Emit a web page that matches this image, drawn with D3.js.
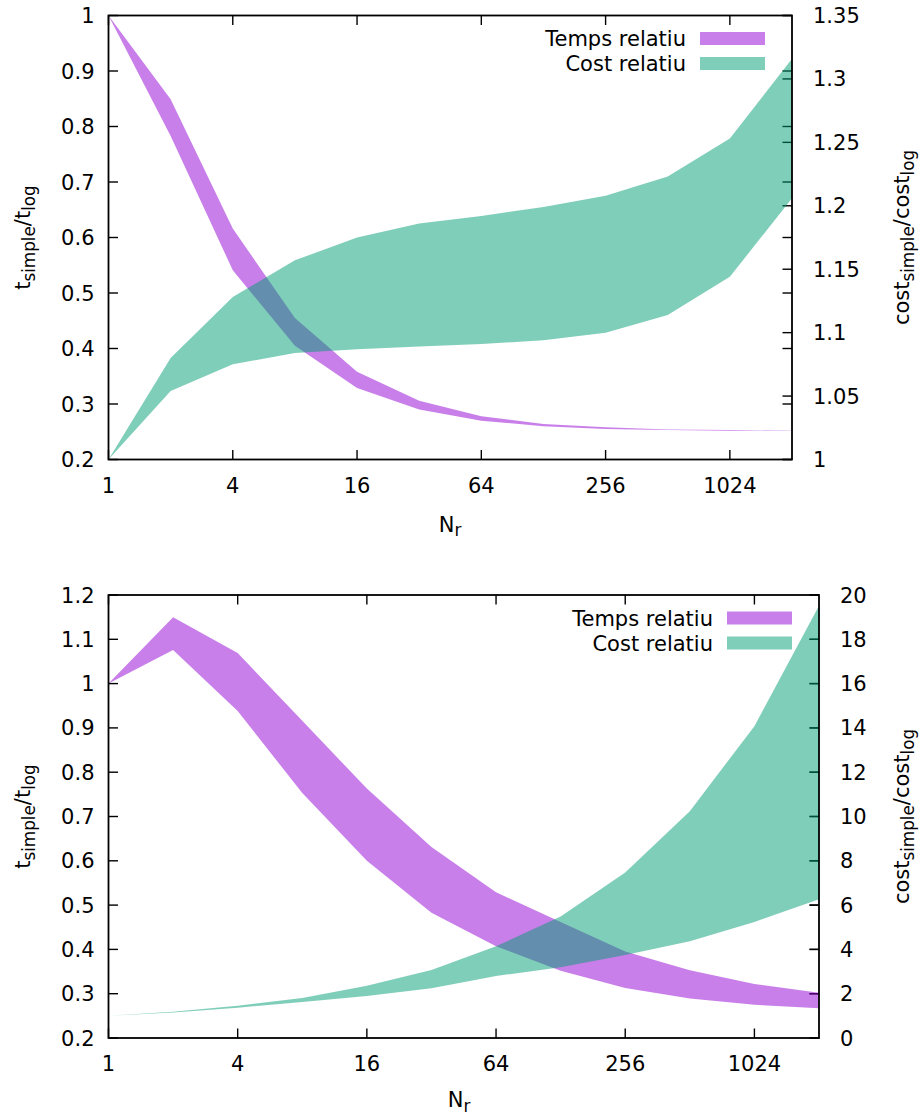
<!DOCTYPE html>
<html>
<head>
<meta charset="utf-8">
<script src="https://cdn.jsdelivr.net/npm/d3@7"></script>
<style>
  html, body { margin: 0; padding: 0; background: #ffffff; }
  svg { display: block; }
  text { font-family: "DejaVu Sans", sans-serif; fill: #000; }
</style>
</head>
<body>
<svg id="chart" width="919" height="1117"></svg>
<script>
// ---------- Data ----------
const nr = [1, 2, 4, 8, 16, 32, 64, 128, 256, 512, 1024, 2048];

// Panel 1
const p1TempsHigh = [1.0, 0.849, 0.616, 0.455, 0.358, 0.306, 0.278, 0.264, 0.258, 0.254, 0.253, 0.252];
const p1TempsLow  = [1.0, 0.783, 0.541, 0.405, 0.329, 0.290, 0.270, 0.260, 0.255, 0.253, 0.252, 0.2515];
const p1CostHigh  = [1.0, 1.080, 1.128, 1.157, 1.175, 1.186, 1.192, 1.199, 1.208, 1.223, 1.253, 1.316];
const p1CostLow   = [1.0, 1.054, 1.075, 1.084, 1.087, 1.089, 1.091, 1.094, 1.100, 1.114, 1.144, 1.206];

// Panel 2
const p2TempsHigh = [1.0, 1.150, 1.069, 0.916, 0.763, 0.631, 0.529, 0.462, 0.395, 0.353, 0.322, 0.302];
const p2TempsLow  = [1.0, 1.076, 0.938, 0.753, 0.600, 0.483, 0.407, 0.352, 0.313, 0.289, 0.275, 0.267];
const p2CostHigh  = [1.0, 1.18, 1.46, 1.81, 2.36, 3.07, 4.14, 5.48, 7.47, 10.24, 14.08, 19.51];
const p2CostLow   = [1.0, 1.15, 1.37, 1.62, 1.90, 2.25, 2.80, 3.19, 3.75, 4.37, 5.24, 6.26];

// Ticks
const xTicks = [1, 4, 16, 64, 256, 1024];
const xTickLabels = ["1", "4", "16", "64", "256", "1024"];
const p1YTicks = [0.2, 0.3, 0.4, 0.5, 0.6, 0.7, 0.8, 0.9, 1.0];
const p1YTickLabels = ["0.2", "0.3", "0.4", "0.5", "0.6", "0.7", "0.8", "0.9", "1"];
const p1Y2Ticks = [1.0, 1.05, 1.1, 1.15, 1.2, 1.25, 1.3, 1.35];
const p1Y2TickLabels = ["1", "1.05", "1.1", "1.15", "1.2", "1.25", "1.3", "1.35"];
const p2YTicks = [0.2, 0.3, 0.4, 0.5, 0.6, 0.7, 0.8, 0.9, 1.0, 1.1, 1.2];
const p2YTickLabels = ["0.2", "0.3", "0.4", "0.5", "0.6", "0.7", "0.8", "0.9", "1", "1.1", "1.2"];
const p2Y2Ticks = [0, 2, 4, 6, 8, 10, 12, 14, 16, 18, 20];
const p2Y2TickLabels = ["0", "2", "4", "6", "8", "10", "12", "14", "16", "18", "20"];

const seriesNames = ["Temps relatiu", "Cost relatiu"];
const seriesColors = ["#9400d3", "#009e73"];

// ---------- Drawing ----------
const svg = d3.select("#chart");
const FONT = 21;
const TICK = 9.5;

function drawPanel(cfg) {
  const { left, right, top, bottom } = cfg.box;
  const g = svg.append("g");
  const x = d3.scaleLog().base(2).domain([1, 2048]).range([left, right]);
  const y = d3.scaleLinear().domain(cfg.yDomain).range([bottom, top]);
  const y2 = d3.scaleLinear().domain(cfg.y2Domain).range([bottom, top]);

  // ticks (behind fills)
  const tg = g.append("g").attr("stroke", "#000").attr("stroke-width", 1.4);
  xTicks.forEach(t => {
    tg.append("line").attr("x1", x(t)).attr("x2", x(t)).attr("y1", bottom).attr("y2", bottom - TICK);
    tg.append("line").attr("x1", x(t)).attr("x2", x(t)).attr("y1", top).attr("y2", top + TICK);
  });
  cfg.yTicks.forEach(t => {
    tg.append("line").attr("x1", left).attr("x2", left + TICK).attr("y1", y(t)).attr("y2", y(t));
    tg.append("line").attr("x1", right).attr("x2", right - TICK).attr("y1", y(t)).attr("y2", y(t));
  });
  cfg.y2Ticks.forEach(t => {
    tg.append("line").attr("x1", right).attr("x2", right - TICK).attr("y1", y2(t)).attr("y2", y2(t));
  });

  // fills
  const areaY = d3.area().x((d, i) => x(nr[i])).y0(d => y(d[0])).y1(d => y(d[1]));
  const areaY2 = d3.area().x((d, i) => x(nr[i])).y0(d => y2(d[0])).y1(d => y2(d[1]));
  g.append("path").datum(d3.zip(cfg.tempsLow, cfg.tempsHigh))
    .attr("d", areaY).attr("fill", seriesColors[0]).attr("fill-opacity", 0.5);
  g.append("path").datum(d3.zip(cfg.costLow, cfg.costHigh))
    .attr("d", areaY2).attr("fill", seriesColors[1]).attr("fill-opacity", 0.5);

  // border
  g.append("rect").attr("x", left).attr("y", top).attr("width", right - left).attr("height", bottom - top)
    .attr("fill", "none").attr("stroke", "#000").attr("stroke-width", 1.8);

  // tick labels
  xTicks.forEach((t, i) => {
    g.append("text").attr("x", x(t)).attr("y", bottom + 33).attr("text-anchor", "middle")
      .attr("font-size", FONT).text(xTickLabels[i]);
  });
  cfg.yTicks.forEach((t, i) => {
    g.append("text").attr("x", left - 14).attr("y", y(t)).attr("dy", "0.36em").attr("text-anchor", "end")
      .attr("font-size", FONT).text(cfg.yTickLabels[i]);
  });
  cfg.y2Ticks.forEach((t, i) => {
    g.append("text").attr("x", right + 21).attr("y", y2(t)).attr("dy", "0.36em").attr("text-anchor", "start")
      .attr("font-size", FONT).text(cfg.y2TickLabels[i]);
  });

  // axis titles
  const cx = (left + right) / 2, cy = (top + bottom) / 2;
  const xt = g.append("text").attr("x", cfg.xTitleX).attr("y", bottom + cfg.xTitleOffset)
    .attr("text-anchor", "middle").attr("font-size", FONT);
  xt.append("tspan").text("N");
  xt.append("tspan").attr("font-size", FONT * 0.8).attr("dy", 4.5).text("r");

  function subTitle(tx, ty, main1, sub1, main2, sub2) {
    const t = g.append("text").attr("transform", `translate(${tx},${ty}) rotate(-90)`)
      .attr("text-anchor", "middle").attr("font-size", FONT);
    t.append("tspan").text(main1);
    t.append("tspan").attr("font-size", FONT * 0.8).attr("dy", 5).text(sub1);
    t.append("tspan").attr("dy", -5).text(main2);
    t.append("tspan").attr("font-size", FONT * 0.8).attr("dy", 5).text(sub2);
  }
  subTitle(30, cy, "t", "simple", "/t", "log");
  subTitle(909, cy, "cost", "simple", "/cost", "log");

  // legend
  const lx2 = right - 27, lx1 = lx2 - 65;
  [0, 1].forEach(i => {
    const ly = top + 23 + i * 25;
    g.append("rect").attr("x", lx1).attr("y", ly - 6.5).attr("width", 65).attr("height", 13)
      .attr("fill", seriesColors[i]).attr("fill-opacity", 0.5);
    g.append("text").attr("x", lx1 - 14).attr("y", ly).attr("dy", "0.36em").attr("text-anchor", "end")
      .attr("font-size", FONT).text(seriesNames[i]);
  });
}

drawPanel({
  box: { left: 108.5, right: 792, top: 15.5, bottom: 459.5 },
  yDomain: [0.2, 1.0], y2Domain: [1.0, 1.35],
  yTicks: p1YTicks, yTickLabels: p1YTickLabels,
  y2Ticks: p1Y2Ticks, y2TickLabels: p1Y2TickLabels,
  tempsLow: p1TempsLow, tempsHigh: p1TempsHigh,
  costLow: p1CostLow, costHigh: p1CostHigh,
  xTitleX: 450, xTitleOffset: 72
});

drawPanel({
  box: { left: 108.5, right: 819, top: 595, bottom: 1038 },
  yDomain: [0.2, 1.2], y2Domain: [0, 20],
  yTicks: p2YTicks, yTickLabels: p2YTickLabels,
  y2Ticks: p2Y2Ticks, y2TickLabels: p2Y2TickLabels,
  tempsLow: p2TempsLow, tempsHigh: p2TempsHigh,
  costLow: p2CostLow, costHigh: p2CostHigh,
  xTitleX: 459, xTitleOffset: 69
});
</script>
</body>
</html>
